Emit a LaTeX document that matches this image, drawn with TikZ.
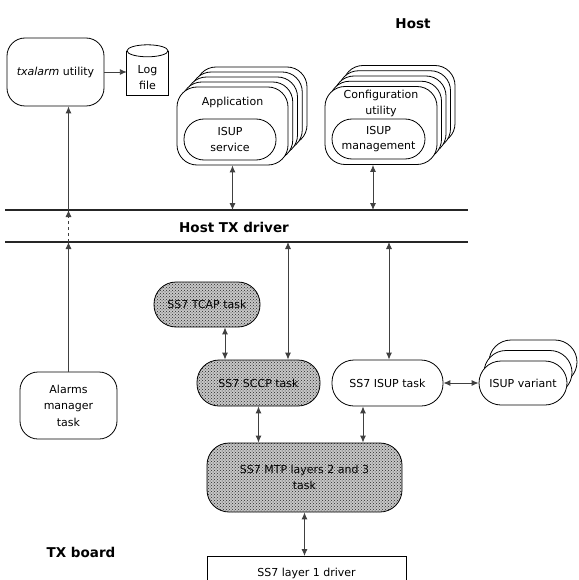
\documentclass[tikz,border=0pt]{standalone}
\usepackage{fontspec}
\setmainfont{DejaVu Sans}
\usetikzlibrary{arrows.meta,patterns,calc}
\begin{document}
\begin{tikzpicture}[x=1pt,y=-1pt,
  txt/.style={font=\fontsize{11}{15.5}\selectfont, align=center},
  bigtxt/.style={font=\fontsize{13.5}{16}\selectfont\bfseries},
  rbox/.style={draw, fill=white, line width=0.8pt, inner sep=0pt, txt},
  dotbox/.style={draw, line width=0.8pt, inner sep=0pt, txt, preaction={fill=black!22}, pattern=crosshatch dots, pattern color=black!85},
  conn/.style={draw=black!75, line width=0.9pt},
  dbl/.style={conn, {Latex[length=7pt,width=6pt]}-{Latex[length=7pt,width=6pt]}},
  sgl/.style={conn, -{Latex[length=7pt,width=6pt]}},
  bus/.style={draw=black!85, line width=1.5pt}]
\useasboundingbox (0,0) rectangle (578,580);

% titles
\node[bigtxt] (hosttitle) at (413,24) {Host};
\node[bigtxt] (txboard) at (81,552) {TX board};

% txalarm and log file
\node[rbox, rounded corners=18pt, minimum width=97pt, minimum height=68pt] (txalarm) at (55.5,72) {\textit{txalarm} utility};
\node[minimum width=41pt, minimum height=44pt, inner sep=0pt] (logbox) at (147.5,73) {};
\draw[line width=0.8pt] (logbox.north west) -- (logbox.south west) -- (logbox.south east) -- (logbox.north east);
\draw[line width=0.8pt] (logbox.north) ellipse [x radius=20.5, y radius=6];
\node[txt] (logtxt) at (147.5,77.5) {Log\\file};

% Application stack
\foreach \k in {4,3,2,1} {
  \node[rbox, rounded corners=20pt, minimum width=111pt, minimum height=78pt] (appb\k) at (232.5+4.75*\k,126-5*\k) {};
}
\node[rbox, rounded corners=20pt, minimum width=111pt, minimum height=78pt] (app) at (232.5,126) {};
\node[txt] (applbl) at (232.5,102) {Application};
\node[rbox, rounded corners=20pt, minimum width=92pt, minimum height=41pt] (appin) at (230,139.5) {ISUP\\service};

% Configuration stack
\foreach \k in {4,3,2,1} {
  \node[rbox, rounded corners=20pt, minimum width=112pt, minimum height=78pt] (cfgb\k) at (381+4.5*\k,125.5-5.25*\k) {};
}
\node[rbox, rounded corners=20pt, minimum width=112pt, minimum height=78pt] (cfg) at (381,125.5) {};
\node[txt] (cfglbl) at (381,103.5) {Configuration\\utility};
\node[rbox, rounded corners=20pt, minimum width=93pt, minimum height=40pt] (cfgin) at (378.5,139) {ISUP\\management};

% Host TX driver bus
\coordinate (tl) at (5,210);
\coordinate (tr) at (468,210);
\coordinate (bl) at (5,242);
\coordinate (br) at (468,242);
\draw[bus] (tl) -- (tr);
\draw[bus] (bl) -- (br);
\node[bigtxt] (drv) at (234,227) {Host TX driver};

% board tasks
\node[dotbox, rounded corners=22pt, minimum width=106pt, minimum height=45pt] (tcap) at (207,304.5) {SS7 TCAP task};
\node[dotbox, rounded corners=22pt, minimum width=123pt, minimum height=46pt] (sccp) at (258.5,383) {SS7 SCCP task};
\node[rbox, rounded corners=22pt, minimum width=111pt, minimum height=46pt] (isup) at (387.5,383) {SS7 ISUP task};
\foreach \k in {2,1} {
  \node[rbox, rounded corners=22pt, minimum width=88pt, minimum height=44pt] (varb\k) at (523+5*\k,383-10.5*\k) {};
}
\node[rbox, rounded corners=22pt, minimum width=88pt, minimum height=44pt] (var) at (523,383) {ISUP variant};
\node[dotbox, rounded corners=22pt, minimum width=195pt, minimum height=69pt] (mtp) at (304.5,477.5) {SS7 MTP layers 2 and 3\\task};
\node[rbox, rounded corners=18pt, minimum width=97pt, minimum height=67pt, font=\fontsize{11}{16.5}\selectfont] (alarm) at (68.5,405.5) {Alarms\\manager\\task};

% layer 1 driver (open at the bottom)
\coordinate (l1a) at (207,582);
\coordinate (l1b) at (207,556);
\coordinate (l1c) at (406,556);
\coordinate (l1d) at (406,582);
\draw[line width=0.8pt] (l1a) -- (l1b) -- (l1c) -- (l1d);
\node[txt] (l1txt) at (306.5,573) {SS7 layer 1 driver};

% connectors
\draw[sgl] (txalarm.east) -- (txalarm.east -| logbox.west);
\draw[sgl] (alarm.north) -- (alarm.north |- bl);
\draw[sgl, dashed] (alarm.north |- bl) -- (alarm.north |- tl);
\draw[sgl] (alarm.north |- tl) -- (alarm.north |- txalarm.south);
\draw[dbl] (app.south) -- (app.south |- tl);
\coordinate (cfgp) at ($(cfg.south)+(-8,0)$);
\draw[dbl] (cfgp) -- (cfgp |- tl);
\coordinate (sccpp) at ($(sccp.north)+(29.5,0)$);
\draw[dbl] (sccpp |- bl) -- (sccpp);
\coordinate (isupp) at ($(isup.north)+(1.5,0)$);
\draw[dbl] (isupp |- bl) -- (isupp);
\coordinate (tcapp) at ($(tcap.south)+(18,0)$);
\draw[dbl] (tcapp) -- (tcapp |- sccp.north);
\draw[dbl] (sccp.south) -- (sccp.south |- mtp.north);
\coordinate (isupq) at ($(isup.south)+(-24.5,0)$);
\draw[dbl] (isupq) -- (isupq |- mtp.north);
\draw[dbl] (isup.east) -- (var.west);
\draw[dbl] (mtp.south) -- (mtp.south |- l1b);
\end{tikzpicture}
\end{document}
